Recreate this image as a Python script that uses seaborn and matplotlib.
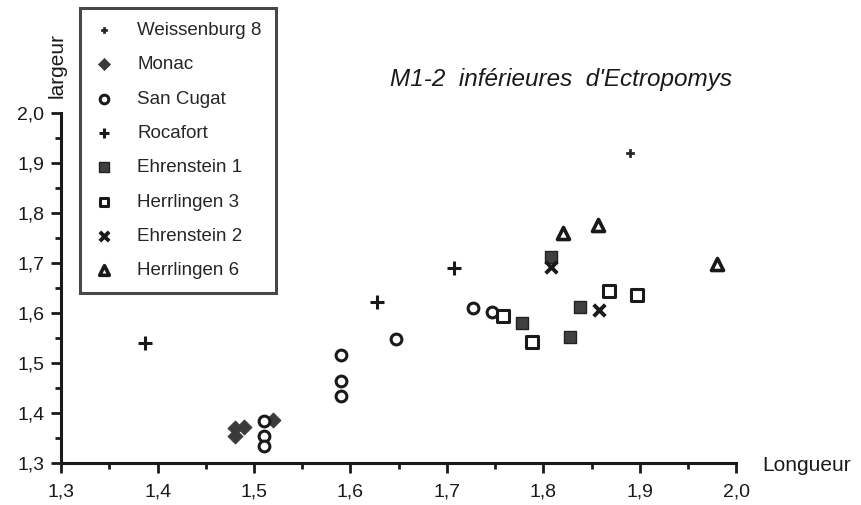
import numpy as np
import pandas as pd
import matplotlib
matplotlib.use("Agg")
import matplotlib.pyplot as plt
import seaborn as sns

# ---------------- data ----------------
weissenburg8_x = [1.89]
weissenburg8_y = [1.92]

monac_x = [1.48, 1.49, 1.48, 1.52]
monac_y = [1.37, 1.372, 1.355, 1.387]

san_cugat_x = [1.51, 1.51, 1.51, 1.59, 1.59, 1.59, 1.647, 1.727, 1.747]
san_cugat_y = [1.385, 1.354, 1.334, 1.516, 1.465, 1.435, 1.548, 1.611, 1.602]

rocafort_x = [1.387, 1.628, 1.707]
rocafort_y = [1.541, 1.622, 1.691]

ehrenstein1_x = [1.808, 1.778, 1.838, 1.828]
ehrenstein1_y = [1.712, 1.581, 1.613, 1.553]

herrlingen3_x = [1.758, 1.788, 1.868, 1.897]
herrlingen3_y = [1.594, 1.543, 1.644, 1.636]

ehrenstein2_x = [1.808, 1.858]
ehrenstein2_y = [1.693, 1.606]

herrlingen6_x = [1.82, 1.857, 1.98]
herrlingen6_y = [1.761, 1.776, 1.698]

ticks = [1.3, 1.4, 1.5, 1.6, 1.7, 1.8, 1.9, 2.0]
tick_labels = ["1,3", "1,4", "1,5", "1,6", "1,7", "1,8", "1,9", "2,0"]

groups = [
    ("Weissenburg 8", weissenburg8_x, weissenburg8_y,
     dict(marker="P", s=26, color="#222222", edgecolor="#222222", linewidth=0.5)),
    ("Monac", monac_x, monac_y,
     dict(marker="D", s=60, color="#3a3a3a", edgecolor="#3a3a3a", linewidth=0.5)),
    ("San Cugat", san_cugat_x, san_cugat_y,
     dict(marker="o", s=60, facecolor="white", edgecolor="#1a1a1a", linewidth=2.2)),
    ("Rocafort", rocafort_x, rocafort_y,
     dict(marker="+", s=90, color="#1a1a1a", linewidth=2.2)),
    ("Ehrenstein 1", ehrenstein1_x, ehrenstein1_y,
     dict(marker="s", s=70, color="#404040", edgecolor="#222222", linewidth=1.0)),
    ("Herrlingen 3", herrlingen3_x, herrlingen3_y,
     dict(marker="s", s=65, facecolor="white", edgecolor="#1a1a1a", linewidth=2.2)),
    ("Ehrenstein 2", ehrenstein2_x, ehrenstein2_y,
     dict(marker="x", s=70, color="#1a1a1a", linewidth=2.8)),
    ("Herrlingen 6", herrlingen6_x, herrlingen6_y,
     dict(marker="^", s=75, facecolor="white", edgecolor="#1a1a1a", linewidth=2.6)),
]

sns.set_style("white")
plt.rcParams["font.family"] = ["Liberation Sans", "DejaVu Sans"]

fig = plt.figure(figsize=(8.61, 5.05), dpi=100)
ax = fig.add_axes([0.071, 0.083, 0.784, 0.693])

for name, xs, ys, kw in groups:
    sns.scatterplot(x=xs, y=ys, label=name, ax=ax, clip_on=False, zorder=3, **kw)

ax.set_xlim(1.3, 2.0)
ax.set_ylim(1.3, 2.0)

ax.set_xticks(ticks)
ax.set_xticklabels(tick_labels, fontsize=14)
ax.set_yticks(ticks)
ax.set_yticklabels(tick_labels, fontsize=14)
ax.set_xticks(np.arange(1.35, 2.0, 0.1), minor=True)
ax.set_yticks(np.arange(1.35, 2.0, 0.1), minor=True)
ax.tick_params(which="major", direction="out", length=7, width=2, colors="#1a1a1a",
               bottom=True, left=True)
ax.tick_params(axis="x", which="major", pad=8)
ax.tick_params(axis="y", which="major", pad=5)
ax.tick_params(which="minor", direction="out", length=4, width=2, colors="#1a1a1a",
               bottom=True, left=True)

sns.despine(ax=ax)
for side in ["left", "bottom"]:
    ax.spines[side].set_linewidth(2.2)
    ax.spines[side].set_color("#1a1a1a")

ax.set_xlabel("")
ax.set_ylabel("")
fig.text(0.885, 0.078, "Longueur", fontsize=15, ha="left", va="center", color="#1a1a1a")
fig.text(0.066, 0.87, "largeur", fontsize=15, rotation=90, ha="center", va="center",
         color="#1a1a1a")
fig.text(0.652, 0.842, "M1-2  inférieures  d'Ectropomys", fontsize=17.5, style="italic",
         ha="center", va="center", color="#1a1a1a")

ax.get_legend().remove()
handles, labels = ax.get_legend_handles_labels()
leg = fig.legend(handles, labels, loc="upper left", bbox_to_anchor=(0.093, 0.985),
                 fontsize=13.5, frameon=True, fancybox=False, edgecolor="#1a1a1a",
                 handlelength=1.0, handletextpad=1.3, labelspacing=0.92,
                 borderpad=0.75, borderaxespad=0, markerscale=0.8)
leg.get_frame().set_linewidth(2.2)

fig.savefig("out.png", dpi=100)
